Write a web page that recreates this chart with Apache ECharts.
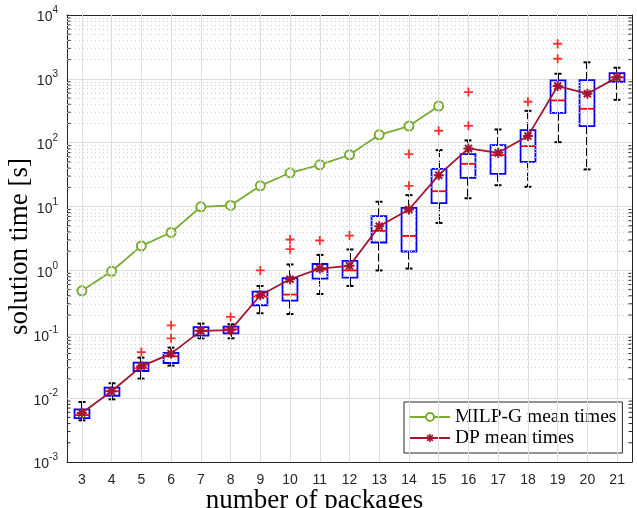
<!DOCTYPE html>
<html>
<head>
<meta charset="utf-8">
<script src="https://cdn.jsdelivr.net/npm/echarts@6/dist/echarts.min.js"></script>
<style>
  html, body { margin: 0; padding: 0; background: #fff; }
  #chart { width: 637px; height: 508px; }
</style>
</head>
<body>
<div id="chart"></div>
<script>
// x categories: number of packages
var packages = ['3','4','5','6','7','8','9','10','11','12','13','14','15','16','17','18','19','20','21'];

// mean times
var milpMean = [0.48, 0.97, 2.42, 3.93, 9.9, 10.4, 21.1, 33.8, 45, 64.6, 133, 182, 375];
var dpMean = [0.00585, 0.0128, 0.0315, 0.0498, 0.113, 0.116, 0.408, 0.727, 1.07, 1.18,
              4.93, 9.0, 31, 81.5, 69.5, 127, 771, 585, 1055];

// DP boxes: [whisker low, q1, median, q3, whisker high]
var dpBoxes = [
    [0.00449, 0.00488, 0.00543, 0.00667, 0.0087],
    [0.00958, 0.0109, 0.0128, 0.0146, 0.0171],
    [0.0202, 0.0266, 0.0298, 0.036, 0.0431],
    [0.0323, 0.0355, 0.0452, 0.051, 0.0619],
    [0.0866, 0.0955, 0.114, 0.129, 0.147],
    [0.0866, 0.1037, 0.1198, 0.132, 0.1436],
    [0.2135, 0.285, 0.39, 0.467, 0.571],
    [0.208, 0.337, 0.419, 0.755, 1.24],
    [0.428, 0.746, 1.03, 1.26, 1.75],
    [0.571, 0.774, 1.0, 1.41, 2.13],
    [1.0, 2.74, 4.16, 7.08, 11.9],
    [1.07, 1.98, 3.47, 9.55, 15.1],
    [5.55, 11.3, 17.4, 39, 76.6],
    [13.5, 28.2, 46.7, 66.3, 108.7],
    [21.6, 32.6, 63.9, 91.6, 161.5],
    [20.4, 50.2, 88.5, 157, 316],
    [102, 294, 460, 946, 1202],
    [38.2, 182, 340, 957, 1815],
    [470, 901, 1055, 1233, 1493]
];

// outliers: [category, value]
var dpOutliers = [
    ['5', 0.0527], ['6', 0.0865], ['6', 0.138], ['8', 0.187], ['9', 1.0],
    ['10', 2.15], ['10', 3.05], ['11', 2.94], ['12', 3.52], ['14', 21.1], ['14', 66.3],
    ['15', 154], ['16', 184], ['16', 621], ['18', 438], ['19', 2065], ['19', 3548]
];

// log axis minor positions (2..9 per decade)
var minorVals = [];
for (var e = -3; e < 4; e++) {
    for (var k = 2; k < 10; k++) minorVals.push(+(k * Math.pow(10, e)).toPrecision(3));
}

var axisCol = '#262626';
var gridCol = '#dedede';
var sans = 'Liberation Sans, Arial, sans-serif';
var serif = 'Liberation Serif, Times New Roman, serif';

var asterisk = 'path://M-1,-5L1,-5L1,5L-1,5Z M-5,-1L5,-1L5,1L-5,1Z ' +
    'M-2.83,-4.24L4.24,2.83L2.83,4.24L-4.24,-2.83Z M-4.24,2.83L2.83,-4.24L4.24,-2.83L-2.83,4.24Z';
var plus = 'path://M-1,-5L1,-5L1,-1L5,-1L5,1L1,1L1,5L-1,5L-1,1L-5,1L-5,-1L-1,-1Z';

var gridLines = packages.map(function (c) { return { xAxis: c, lineStyle: { color: gridCol, type: 'solid', width: 1 } }; })
    .concat(minorVals.map(function (v) { return { yAxis: v, lineStyle: { color: '#cfcfcf', type: [1, 3], width: 1 } }; }));

var option = {
    animation: false,
    backgroundColor: '#fff',
    grid: { left: 67, top: 15, right: 5, bottom: 46, outerBoundsMode: 'none' },
    legend: {
        data: ['MILP-G mean times', 'DP mean times'],
        orient: 'vertical',
        left: 404,
        top: 402,
        padding: [5, 6, 5, 5],
        itemGap: 1,
        itemWidth: 40,
        itemHeight: 10,
        backgroundColor: '#fff',
        borderColor: axisCol,
        borderWidth: 1,
        borderRadius: 0,
        textStyle: { fontFamily: serif, fontSize: 19.5, color: '#000', lineHeight: 18 }
    },
    xAxis: [
        {
            type: 'category',
            data: packages,
            boundaryGap: true,
            name: 'number of packages',
            nameLocation: 'middle',
            nameGap: 25,
            nameMoveOverlap: false,
            nameTextStyle: { fontFamily: serif, fontSize: 27, color: '#000', padding: [0, 70, 0, 0] },
            axisLine: { lineStyle: { color: axisCol, width: 1 } },
            axisTick: { inside: true, alignWithLabel: true, length: 5, lineStyle: { color: axisCol } },
            axisLabel: { interval: 0, margin: 11, fontFamily: sans, fontSize: 14, color: axisCol },
            splitLine: { show: false }
        },
        {
            type: 'category',
            data: packages,
            position: 'top',
            boundaryGap: true,
            axisLine: { lineStyle: { color: axisCol, width: 1 } },
            axisTick: { inside: true, alignWithLabel: true, length: 5, lineStyle: { color: axisCol } },
            axisLabel: { show: false },
            splitLine: { show: false }
        }
    ],
    yAxis: [
        {
            type: 'log',
            logBase: 10,
            min: 0.001,
            max: 10000,
            splitNumber: 7,
            name: 'solution time [s]',
            nameLocation: 'middle',
            nameGap: 34,
            nameMoveOverlap: false,
            nameTextStyle: { fontFamily: serif, fontSize: 27, color: '#000', padding: [0, 16, 0, 0] },
            axisLine: { show: true, lineStyle: { color: axisCol, width: 1 } },
            axisTick: { inside: true, length: 6, lineStyle: { color: axisCol } },
            axisLabel: {
                margin: 9,
                formatter: function (v) {
                    return '{b|10}{s|' + Math.round(Math.log10(v)) + '}';
                },
                rich: {
                    b: { fontFamily: sans, fontSize: 14, color: axisCol, verticalAlign: 'bottom', lineHeight: 19 },
                    s: { fontFamily: sans, fontSize: 10, color: axisCol, verticalAlign: 'top', lineHeight: 19 }
                }
            },
            splitLine: { show: true, lineStyle: { color: gridCol, width: 1 } }
        },
        {
            type: 'log',
            logBase: 10,
            min: 0.001,
            max: 10000,
            splitNumber: 7,
            position: 'right',
            axisLine: { show: true, lineStyle: { color: axisCol, width: 1 } },
            axisTick: { inside: true, length: 6, lineStyle: { color: axisCol } },
            axisLabel: { show: false },
            splitLine: { show: false }
        }
    ],
    series: [
        {
            // minor ticks on both y axes + grid lines
            name: 'ticks',
            type: 'custom',
            z: 1,
            silent: true,
            data: minorVals.map(function (v) { return [0, v]; }),
            renderItem: function (params, api) {
                var cs = params.coordSys;
                var y = api.coord([0, api.value(1)])[1];
                var st = { stroke: axisCol, lineWidth: 1 };
                return {
                    type: 'group',
                    children: [
                        { type: 'line', shape: { x1: cs.x, y1: y, x2: cs.x + 3.5, y2: y }, style: st },
                        { type: 'line', shape: { x1: cs.x + cs.width - 3.5, y1: y, x2: cs.x + cs.width, y2: y }, style: st }
                    ]
                };
            },
            markLine: {
                silent: true,
                symbol: 'none',
                label: { show: false },
                animation: false,
                data: gridLines
            }
        },
        {
            name: 'box',
            type: 'custom',
            z: 3,
            data: dpBoxes.map(function (b, i) { return [i].concat(b); }),
            renderItem: function (params, api) {
                var i = api.value(0);
                var lo = api.coord([i, api.value(1)]);
                var q1 = api.coord([i, api.value(2)]);
                var md = api.coord([i, api.value(3)]);
                var q3 = api.coord([i, api.value(4)]);
                var hi = api.coord([i, api.value(5)]);
                var x = Math.round(lo[0]);
                var hw = api.size([1, 0])[0] * 0.25;
                var cap = 3.5;
                var dash = { stroke: '#000', lineWidth: 2, lineDash: [8, 3] };
                var solid = { stroke: '#000', lineWidth: 2 };
                return {
                    type: 'group',
                    children: [
                        { type: 'line', shape: { x1: x, y1: q3[1], x2: x, y2: hi[1] }, style: dash },
                        { type: 'line', shape: { x1: x, y1: q1[1], x2: x, y2: lo[1] }, style: dash },
                        { type: 'line', shape: { x1: x - cap, y1: hi[1], x2: x + cap, y2: hi[1] }, style: solid },
                        { type: 'line', shape: { x1: x - cap, y1: lo[1], x2: x + cap, y2: lo[1] }, style: solid },
                        { type: 'rect', shape: { x: x - hw, y: q3[1], width: 2 * hw, height: q1[1] - q3[1] },
                          style: { fill: 'none', stroke: '#0000ff', lineWidth: 1.8 } },
                        { type: 'line', shape: { x1: x - hw, y1: md[1], x2: x + hw, y2: md[1] },
                          style: { stroke: '#ff0000', lineWidth: 1.8 } }
                    ]
                };
            }
        },
        {
            name: 'MILP-G mean times',
            type: 'line',
            z: 4,
            data: milpMean,
            color: '#77ac30',
            symbol: 'emptyCircle',
            symbolSize: 9,
            showAllSymbol: true,
            lineStyle: { color: '#77ac30', width: 1.8 },
            itemStyle: { color: '#77ac30', borderColor: '#77ac30', borderWidth: 1.8 }
        },
        {
            name: 'DP mean times',
            type: 'line',
            z: 5,
            data: dpMean,
            color: '#a2142f',
            symbol: asterisk,
            symbolSize: 10,
            showAllSymbol: true,
            lineStyle: { color: '#a2142f', width: 1.8 },
            itemStyle: { color: '#a2142f' }
        },
        {
            name: 'outliers',
            type: 'scatter',
            z: 6,
            data: dpOutliers,
            symbol: plus,
            symbolSize: 9,
            itemStyle: { color: '#ff0000' }
        }
    ]
};

var myChart = echarts.init(document.getElementById('chart'), null, { renderer: 'canvas' });
myChart.setOption(option);
</script>
</body>
</html>
